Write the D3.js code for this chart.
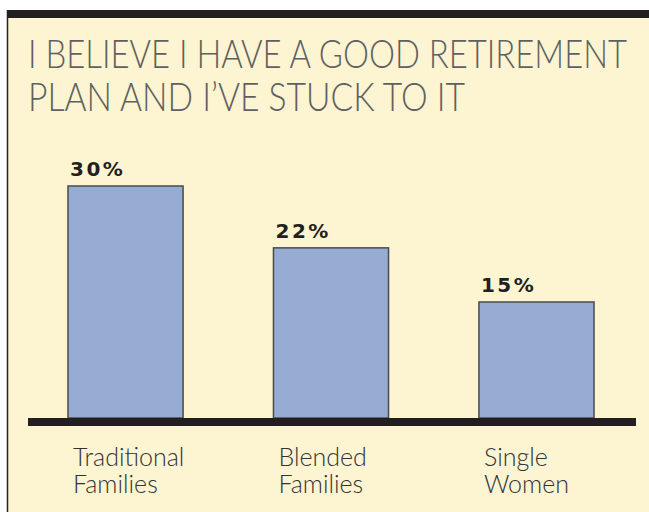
<!DOCTYPE html>
<html>
<head>
<meta charset="utf-8">
<script src="https://cdn.jsdelivr.net/npm/d3@7"></script>
<style>
  html, body { margin: 0; padding: 0; background: #ffffff; }
  svg { display: block; }
</style>
</head>
<body>
<svg id="chart" width="649" height="512"></svg>
<script>
// Survey results: share of respondents who agree with the statement
const categories = ["Traditional Families", "Blended Families", "Single Women"];
const values = [30, 22, 15];
const valueLabels = ["30%", "22%", "15%"];
const titleLines = ["I BELIEVE I HAVE A GOOD RETIREMENT", "PLAN AND I\u2019VE STUCK TO IT"];

const W = 649, H = 512;
const svg = d3.select("#chart");

// panel background, top rule and left rule
svg.append("rect").attr("x", 8).attr("y", 10).attr("width", W - 8).attr("height", H - 10)
  .attr("fill", "#fdf4d2");
svg.append("rect").attr("x", 8).attr("y", 10).attr("width", W - 8).attr("height", 8)
  .attr("fill", "#231f20");
svg.append("line").attr("x1", 7.5).attr("x2", 7.5).attr("y1", 10).attr("y2", H)
  .attr("stroke", "#231f20").attr("stroke-width", 1.5);

// title
const titleWidths = [599, 437];
svg.append("g").selectAll("text").data(titleLines).join("text")
  .attr("x", 28)
  .attr("y", (d, i) => 68 + i * 43)
  .attr("textLength", (d, i) => titleWidths[i])
  .attr("lengthAdjust", "spacingAndGlyphs")
  .attr("font-family", "Lato, 'Open Sans', sans-serif")
  .attr("font-weight", 300)
  .attr("font-size", 40)
  .attr("fill", "#606060")
  .text(d => d);

// scales
const x = d3.scaleBand().domain(categories).range([68, 594]).paddingInner(0.44).paddingOuter(0);
const y = d3.scaleLinear().domain([0, 30]).range([418, 186]);

// bars
svg.append("g").selectAll("rect").data(values).join("rect")
  .attr("x", (d, i) => x(categories[i]))
  .attr("y", d => y(d))
  .attr("width", x.bandwidth())
  .attr("height", d => y(0) - y(d))
  .attr("fill", "#97acd3")
  .attr("stroke", "#4a4a4a")
  .attr("stroke-width", 1.5);

// value labels
svg.append("g").selectAll("text").data(values).join("text")
  .attr("x", (d, i) => x(categories[i]) + 2)
  .attr("y", d => y(d) - 10)
  .attr("font-family", "'DejaVu Sans', sans-serif")
  .attr("font-weight", 700)
  .attr("font-size", 20)
  .attr("letter-spacing", 2.5)
  .attr("fill", "#231f20")
  .text((d, i) => valueLabels[i]);

// baseline axis
svg.append("rect")
  .attr("x", 28).attr("y", y(0))
  .attr("width", 636 - 28).attr("height", 8)
  .attr("fill", "#231f20");

// category labels (two lines each)
const cat = svg.append("g").selectAll("text").data(categories).join("text")
  .attr("x", d => x(d) + 5)
  .attr("y", 466)
  .attr("font-family", "Lato, 'Open Sans', sans-serif")
  .attr("font-weight", 300)
  .attr("font-size", 25)
  .attr("fill", "#333333");
cat.selectAll("tspan").data(d => d.split(" ")).join("tspan")
  .attr("x", function() { return d3.select(this.parentNode).attr("x"); })
  .attr("dy", (d, i) => i === 0 ? 0 : 27)
  .text(d => d);
</script>
</body>
</html>
